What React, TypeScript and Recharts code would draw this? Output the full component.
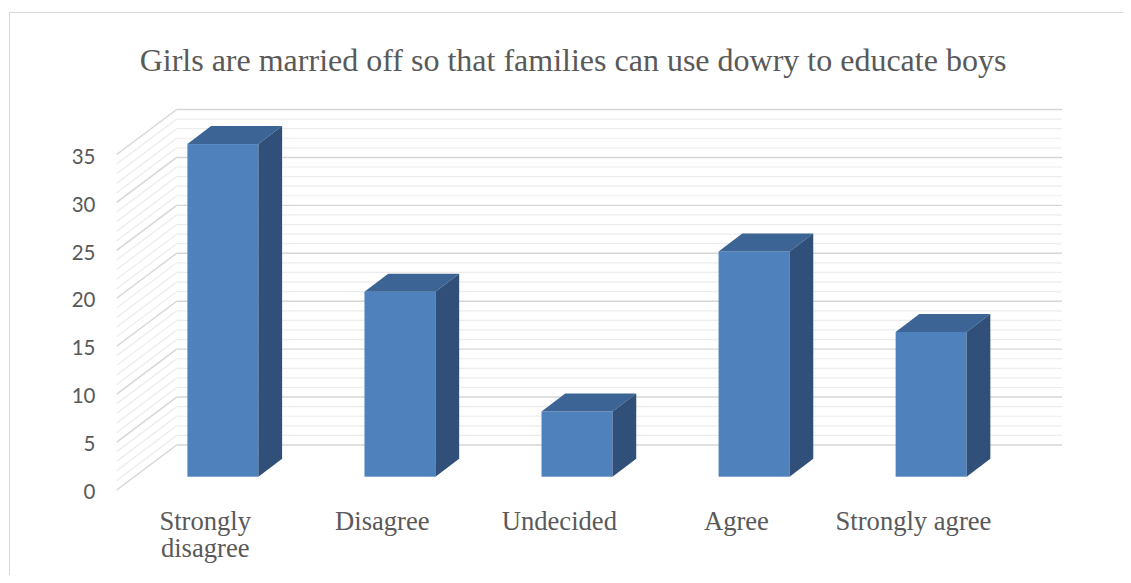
import React from 'react';
import { BarChart, Bar, XAxis, YAxis, CartesianGrid } from 'recharts';

const title = 'Girls are married off so that families can use dowry to educate boys';
const categories = ['Strongly disagree', 'Disagree', 'Undecided', 'Agree', 'Strongly agree'];
const values = [34.7, 19.3, 6.8, 23.5, 15.1];
// gridline positions (every unit) and labelled ticks
const gridTicks = [0, 1, 2, 3, 4, 5, 6, 7, 8, 9, 10, 11, 12, 13, 14, 15, 16, 17, 18, 19, 20, 21, 22, 23, 24, 25, 26, 27, 28, 29, 30, 31, 32, 33, 34, 35];
const labelTicks = [0, 5, 10, 15, 20, 25, 30, 35];

const data = categories.map((name, i) => ({ name, value: values[i] }));

// oblique 3D projection offsets (style)
const FRONT_DX = -17.7;
const FRONT_DY = 13.3;
const BACK_DX = 42.3;
const BACK_DY = -31.7;
const BAR_DX = 23.7;
const BAR_DY = 18;

const TEXT = '#595959';
const SERIF = "'Liberation Serif', 'Times New Roman', serif";

const gridLine = (props: any) => {
  const { x1, y1, x2, index } = props;
  const major = index % 5 === 0;
  const stroke = major ? '#D6D6D6' : '#ECECEC';
  const sw = major ? 1.4 : 1.2;
  return (
    <g key={`g-${index}`}>
      <line x1={x1 + FRONT_DX} y1={y1 + FRONT_DY} x2={x1 + BACK_DX} y2={y1 + BACK_DY} stroke={stroke} strokeWidth={sw} />
      <line x1={x1 + BACK_DX} y1={y1 + BACK_DY} x2={x2 + BACK_DX} y2={y1 + BACK_DY} stroke={stroke} strokeWidth={sw} />
    </g>
  );
};

const YTick = (props: any) => {
  const { y, payload } = props;
  if (!labelTicks.includes(payload.value)) return <g />;
  return (
    <text x={87.5} y={y + 22.5} textAnchor="end" fill={TEXT} fontSize={20.5} fontFamily="Lato, 'Open Sans', sans-serif">
      {payload.value}
    </text>
  );
};

const XTick = (props: any) => {
  const { x, y, payload } = props;
  const label = String(payload.value);
  const lines = label.length > 15 ? label.split(' ') : [label];
  const cx = x + FRONT_DX;
  return (
    <text x={cx} y={y + 53.5} textAnchor="middle" fill={TEXT} fontSize={26.6} fontFamily={SERIF}>
      {lines.map((l, i) => (
        <tspan key={i} x={cx} dy={i === 0 ? 0 : 27}>
          {l}
        </tspan>
      ))}
    </text>
  );
};

const Bar3D = (props: any) => {
  const { x, y, width, height } = props;
  if (!height || height <= 0) return <g />;
  const top = `${x},${y} ${x + BAR_DX},${y - BAR_DY} ${x + width + BAR_DX},${y - BAR_DY} ${x + width},${y}`;
  const side = `${x + width},${y} ${x + width + BAR_DX},${y - BAR_DY} ${x + width + BAR_DX},${y + height - BAR_DY} ${x + width},${y + height}`;
  return (
    <g>
      <rect x={x} y={y} width={width} height={height} fill="#4F81BD" />
      <polygon points={top} fill="#3C6494" />
      <polygon points={side} fill="#30507A" />
    </g>
  );
};

export default function App() {
  return (
    <div style={{ position: 'relative', width: 1115, height: 567, overflow: 'hidden', background: '#fff' }}>
      <div
        style={{
          position: 'absolute',
          left: 1,
          top: 4,
          width: 1300,
          height: 800,
          border: '1px solid #D9D9D9',
          boxSizing: 'border-box',
        }}
      />
      <svg style={{ position: 'absolute', left: 0, top: 0 }} width={1115} height={567}>
        <text x={565} y={62.5} textAnchor="middle" fill={TEXT} fontSize={32} fontFamily={SERIF}>
          {title}
        </text>
      </svg>
      <div style={{ position: 'absolute', left: 0, top: 0 }}>
        <BarChart
          width={1115}
          height={567}
          data={data}
          margin={{ top: 133.2, right: 103.3, bottom: 38.3, left: 46.4 }}
        >
          <CartesianGrid vertical={false} horizontal={gridLine} />
          <XAxis
            dataKey="name"
            axisLine={false}
            tickLine={false}
            tickSize={0}
            tickMargin={0}
            height={60}
            interval={0}
            tick={<XTick />}
          />
          <YAxis
            type="number"
            domain={[0, 35]}
            ticks={gridTicks}
            interval={0}
            width={80}
            axisLine={false}
            tickLine={false}
            tickSize={0}
            tickMargin={0}
            tick={<YTick />}
          />
          <Bar dataKey="value" barSize={71} shape={<Bar3D />} isAnimationActive={false} />
        </BarChart>
      </div>
    </div>
  );
}
